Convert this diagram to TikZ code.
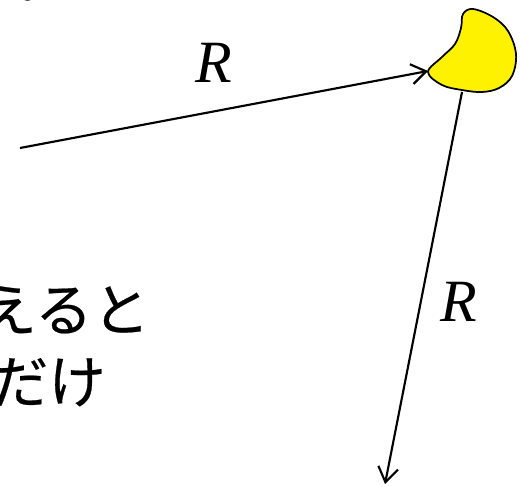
\documentclass[tikz,border=0pt]{standalone}
\usepackage{fontspec}
\setmainfont{Liberation Serif}
\newfontfamily\jpfont[FakeBold=0.4]{Noto Sans CJK JP}
\usetikzlibrary{arrows.meta}
\tikzset{
  conn/.style={line width=1.6pt, -{Straight Barb[length=11pt,width=15pt,line width=1.6pt]}},
  rlabel/.style={font=\fontsize{45}{50}\selectfont\itshape, inner sep=0pt},
  jtext/.style={font=\fontsize{43}{47}\jpfont, inner sep=0pt, anchor=base east},
}
\begin{document}
\begin{tikzpicture}[x=0.75pt,y=-0.75pt]
\useasboundingbox (0,0) rectangle (520,486);
\clip (0,0) rectangle (520,486);
% blob
\draw[line width=1.3pt, fill=yellow] plot[smooth cycle, tension=0.6] coordinates {
  (428,72) (442,57) (455,44) (461,28) (463,14) (473,9) (493,17) (508,31) (516,54)
  (512,76) (499,88) (482,92) (462,90) (442,85)};
\coordinate (start) at (20,148);
\coordinate (tip) at (428,71);
\coordinate (bot) at (462,92);
\coordinate (end) at (385,484);
\draw[conn] (start) -- (tip);
\draw[conn] (bot) -- (end);
\node[rlabel] (r1) at (214,63) {R};
\node[rlabel] (r2) at (459,302) {R};
\node[jtext] (t0) at (74,-3) {る。};
\node[jtext] (t1) at (150,331) {えると};
\node[jtext] (t2) at (106,403) {だけ};
\end{tikzpicture}
\end{document}
